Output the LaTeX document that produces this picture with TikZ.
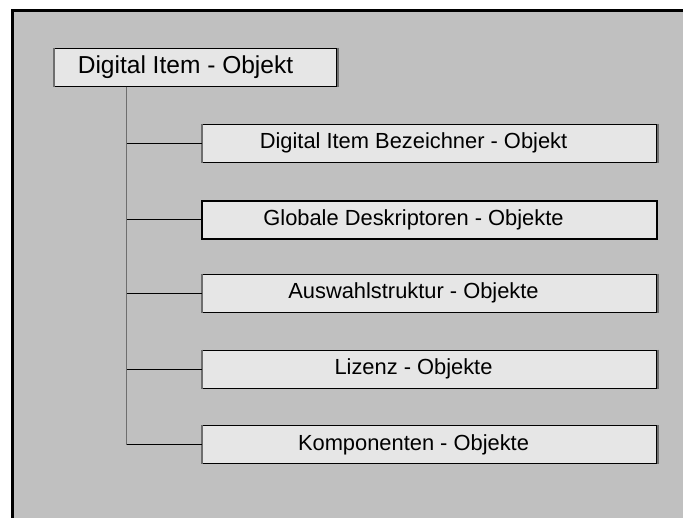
\documentclass[tikz,border=0pt]{standalone}
\usepackage{fontspec}
\setmainfont{Liberation Sans}
\usetikzlibrary{positioning}
\definecolor{pagegray}{HTML}{C0C0C0}
\definecolor{boxgray}{HTML}{E6E6E6}
\definecolor{edgegray}{HTML}{6E6E6E}
\begin{document}
\begin{tikzpicture}[x=0.75pt, y=-0.75pt,
    objbox/.style={draw=black, line width=0.75pt, fill=boxgray, inner sep=0pt,
                   minimum width=340.8pt, minimum height=28.5pt},
    objtext/.style={font=\fontsize{16.4}{18}\selectfont, inner sep=0pt},
    branch/.style={draw=black, line width=0.8pt},
    trunk/.style={draw=edgegray, line width=1.1pt}]
  \useasboundingbox (0,0) rectangle (683,518);
  % gray page with a heavy frame on top and left
  \fill[pagegray] (12.5,10.5) rectangle (683,518);
  \draw[line width=2.2pt] (11,10.5) -- (683,10.5);
  \draw[line width=2.2pt] (12.5,10.5) -- (12.5,518);
  % root object
  \node[objbox, minimum width=211.8pt, minimum height=28.8pt] (root) at (195.5,67.5) {};
  \node[objtext, font=\fontsize{18.4}{20}\selectfont] (roottext) at (185.5,67.5) {Digital Item - Objekt};
  \coordinate (top) at (126.7,86.7);
  % child objects
  \node[objbox] (bez)  at (429.5,143.3) {};
  \node[objbox, line width=1.5pt] (glob) at (429.5,219.5) {};
  \node[objbox] (ausw) at (429.5,293.3) {};
  \node[objbox] (liz)  at (429.5,369.2) {};
  \node[objbox] (komp) at (429.5,444.5) {};
  \node[objtext] (beztext)  at ([xshift=-12]bez.center)  {Digital Item Bezeichner - Objekt};
  \node[objtext] (globtext) at ([xshift=-12]glob.center) {Globale Deskriptoren - Objekte};
  \node[objtext] (auswtext) at ([xshift=-12]ausw.center) {Auswahlstruktur - Objekte};
  \node[objtext] (liztext)  at ([xshift=-12]liz.center)  {Lizenz - Objekte};
  \node[objtext] (komptext) at ([xshift=-12]komp.center) {Komponenten - Objekte};
  % shaded side edges
  \foreach \n in {root, bez, ausw, liz, komp} {
    \draw[edgegray, line width=1.4pt] (\n.north west) -- (\n.south west);
    \draw[edgegray, line width=1.8pt] ([xshift=0.6]\n.north east) -- ([xshift=0.6]\n.south east);
  }
  % tree lines
  \draw[trunk] (top) -- (komp.west -| top);
  \foreach \n in {bez, glob, ausw, liz, komp}
    \draw[branch] (top |- \n.west) -- (\n.west);
\end{tikzpicture}
\end{document}
